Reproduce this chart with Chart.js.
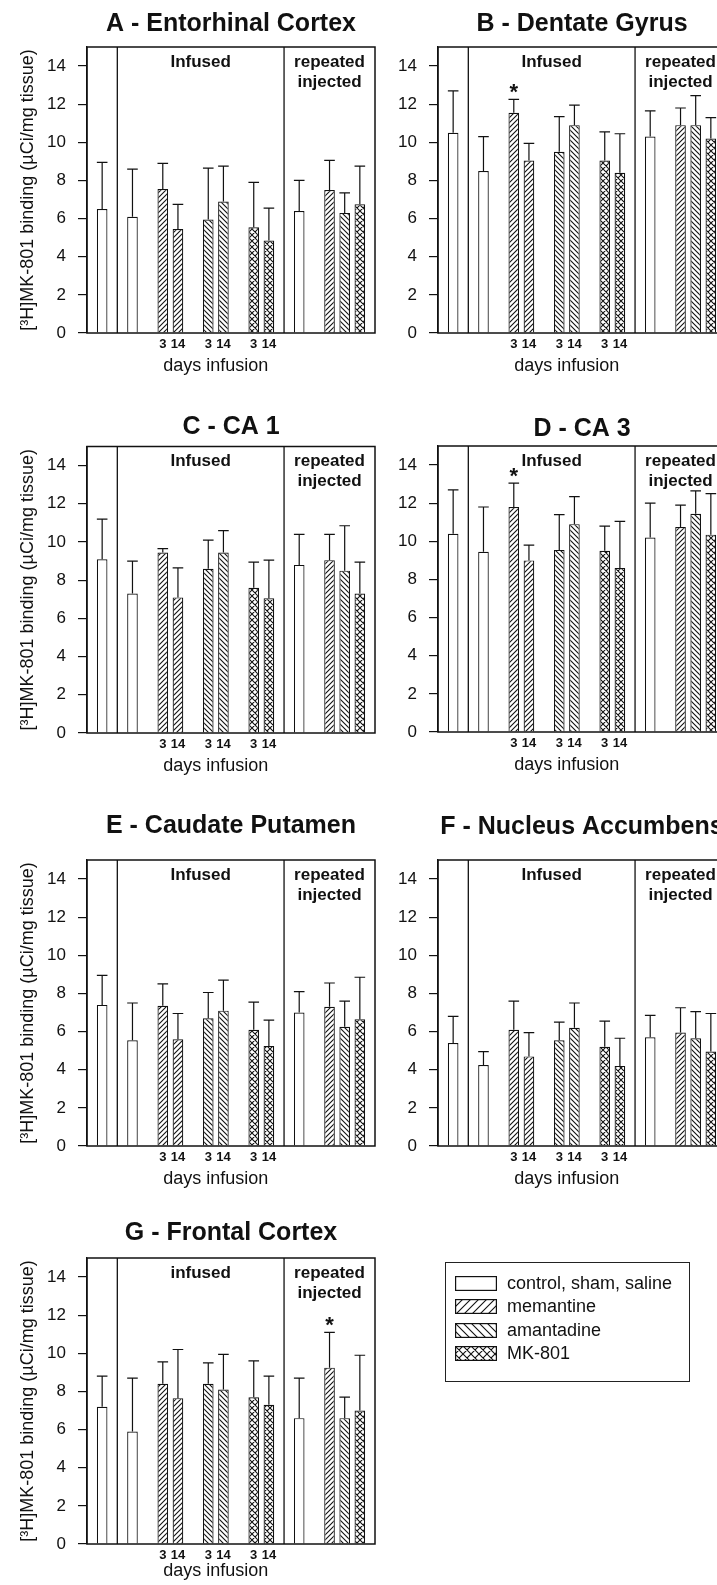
<!DOCTYPE html>
<html lang="en">
<head>
  <meta charset="UTF-8">
  <title>[3H]MK-801 binding</title>
  <script src="https://cdn.jsdelivr.net/npm/chart.js"></script>
  <style>
    body {
      margin: 0;
      width: 717px;
      height: 1585px;
      overflow: hidden;
      position: relative;
      background: #fff;
      font-family: 'Liberation Sans', Arial, Helvetica, sans-serif;
      color: #111;
    }
    canvas.panel { position: absolute; }
    #legend {
      position: absolute;
      left: 445px;
      top: 1262px;
      width: 243px;
      height: 109px;
      border: 1.3px solid #222;
      box-sizing: content-box;
      padding-top: 9px;
    }
    .row {
      display: flex;
      align-items: center;
      height: 23.3px;
      padding-left: 9px;
      font-size: 18px;
    }
    .row canvas { margin-right: 10px; }
  </style>
</head>
<body>
  <div id="legend"></div>
  <script>
    const INK = '#111';
    const FONT = "'Liberation Sans', Arial, Helvetica, sans-serif";

    // slot layout of every panel: empty strings are the gaps between groups
    const categories = ['', 'control', '', 'sham', '', 'memantine 3 d', 'memantine 14 d', '', 'amantadine 3 d', 'amantadine 14 d', '',
      'MK-801 3 d', 'MK-801 14 d', '', 'saline', '', 'memantine rep.', 'amantadine rep.', 'MK-801 rep.', ''];
    const dayTicks = ['', '', '', '', '', '3', '14', '', '3', '14', '', '3', '14', '', '', '', '', '', '', ''];
    const drugs = ['control', 'control', 'memantine', 'memantine', 'amantadine', 'amantadine', 'mk801', 'mk801',
      'control', 'memantine', 'amantadine', 'mk801'];
    const sectionBreaks = [2, 13];
    const yTicks = [0, 2, 4, 6, 8, 10, 12, 14];

    const legendLabels = ['control, sham, saline', 'memantine', 'amantadine', 'MK-801'];
    const legendKeys = ['control', 'memantine', 'amantadine', 'mk801'];

    // mean and SD, 12 bars per region
    const meanA = [6.5, 6.1, 7.55, 5.45, 5.95, 6.9, 5.55, 4.85, 6.4, 7.5, 6.3, 6.75];
    const sdA = [2.45, 2.5, 1.35, 1.3, 2.7, 1.85, 2.35, 1.7, 1.6, 1.55, 1.05, 2.0];
    const meanB = [10.5, 8.5, 11.55, 9.05, 9.5, 10.9, 9.05, 8.4, 10.3, 10.9, 10.9, 10.2];
    const sdB = [2.2, 1.8, 0.7, 0.9, 1.85, 1.05, 1.5, 2.05, 1.35, 0.9, 1.55, 1.1];
    const meanC = [9.1, 7.3, 9.45, 7.1, 8.6, 9.45, 7.6, 7.05, 8.8, 9.05, 8.5, 7.3];
    const sdC = [2.1, 1.7, 0.2, 1.55, 1.5, 1.15, 1.35, 2.0, 1.6, 1.35, 2.35, 1.65];
    const meanD = [10.4, 9.45, 11.8, 9.0, 9.55, 10.9, 9.5, 8.6, 10.2, 10.75, 11.45, 10.35];
    const sdD = [2.3, 2.35, 1.25, 0.8, 1.85, 1.45, 1.3, 2.45, 1.8, 1.15, 1.2, 2.15];
    const meanE = [7.4, 5.55, 7.35, 5.6, 6.7, 7.1, 6.1, 5.25, 7.0, 7.3, 6.25, 6.65];
    const sdE = [1.55, 1.95, 1.15, 1.35, 1.35, 1.6, 1.45, 1.35, 1.1, 1.25, 1.35, 2.2];
    const meanF = [5.4, 4.25, 6.1, 4.7, 5.55, 6.2, 5.2, 4.2, 5.7, 5.95, 5.65, 4.95];
    const sdF = [1.4, 0.7, 1.5, 1.25, 0.95, 1.3, 1.35, 1.45, 1.15, 1.3, 1.4, 2.0];
    const meanG = [7.2, 5.9, 8.4, 7.65, 8.4, 8.1, 7.7, 7.3, 6.6, 9.25, 6.6, 7.0];
    const sdG = [1.6, 2.8, 1.15, 2.55, 1.1, 1.85, 1.9, 1.5, 2.1, 1.85, 1.1, 2.9];

    // bars marked with *
    const starsB = [2];
    const starsD = [2];
    const starsG = [9];

    const panels = [
      { title: 'A - Entorhinal Cortex', mean: meanA, sd: sdA, stars: [], infused: 'Infused', left: 0, frameTop: 47, gap: 8, xGap: 33 },
      { title: 'B - Dentate Gyrus', mean: meanB, sd: sdB, stars: starsB, infused: 'Infused', left: 351, frameTop: 47, gap: 8, xGap: 33 },
      { title: 'C - CA 1', mean: meanC, sd: sdC, stars: [], infused: 'Infused', left: 0, frameTop: 446, gap: 4.5, xGap: 33 },
      { title: 'D - CA 3', mean: meanD, sd: sdD, stars: starsD, infused: 'Infused', left: 351, frameTop: 446, gap: 2, xGap: 33 },
      { title: 'E - Caudate Putamen', mean: meanE, sd: sdE, stars: [], infused: 'Infused', left: 0, frameTop: 859.5, gap: 19, xGap: 33 },
      { title: 'F - Nucleus Accumbens', mean: meanF, sd: sdF, stars: [], infused: 'Infused', left: 351, frameTop: 859.5, gap: 18, xGap: 33 },
      { title: 'G - Frontal Cortex', mean: meanG, sd: sdG, stars: starsG, infused: 'infused', left: 0, frameTop: 1258, gap: 10, xGap: 27 }
    ];

    const barSlots = categories.map((c, i) => c ? i : -1).filter(i => i >= 0);

    function toSlots(vals) {
      const out = categories.map(() => null);
      barSlots.forEach((s, k) => { out[s] = vals[k]; });
      return out;
    }

    function hatch(kind, s) {
      const c = document.createElement('canvas');
      c.width = c.height = s;
      const g = c.getContext('2d');
      g.fillStyle = '#fff';
      g.fillRect(0, 0, s, s);
      if (kind === 'control') return c;
      g.strokeStyle = INK;
      g.lineWidth = 1.1;
      g.beginPath();
      if (kind === 'memantine' || kind === 'mk801') {
        g.moveTo(-1, s + 1); g.lineTo(s + 1, -1);
        g.moveTo(-1, 1); g.lineTo(1, -1);
        g.moveTo(s - 1, s + 1); g.lineTo(s + 1, s - 1);
      }
      if (kind === 'amantadine' || kind === 'mk801') {
        g.moveTo(-1, -1); g.lineTo(s + 1, s + 1);
        g.moveTo(-1, s - 1); g.lineTo(1, s + 1);
        g.moveTo(s - 1, -1); g.lineTo(s + 1, 1);
      }
      g.stroke();
      return c;
    }

    function fillFor(ctx, kind, s) {
      if (kind === 'control') return '#fff';
      return ctx.createPattern(hatch(kind, s), 'repeat');
    }

    function decor(p) {
      return {
        id: 'decor',
        afterDatasetsDraw(chart) {
          const { ctx, scales: { x, y } } = chart;
          const meta = chart.getDatasetMeta(0);
          ctx.save();
          ctx.strokeStyle = INK;
          ctx.lineWidth = 1.2;
          barSlots.forEach((s, k) => {
            const bar = meta.data[s];
            const capY = y.getPixelForValue(p.mean[k] + p.sd[k]);
            const half = bar.width / 2;
            ctx.beginPath();
            ctx.moveTo(bar.x, bar.y);
            ctx.lineTo(bar.x, capY);
            ctx.moveTo(bar.x - half, capY);
            ctx.lineTo(bar.x + half, capY);
            ctx.stroke();
            if (p.stars.includes(k)) {
              ctx.fillStyle = INK;
              ctx.font = 'bold 22px ' + FONT;
              ctx.textAlign = 'center';
              ctx.textBaseline = 'alphabetic';
              ctx.fillText('*', bar.x, capY);
            }
          });
          ctx.restore();
        },
        afterDraw(chart) {
          const { ctx, chartArea: a, scales: { x } } = chart;
          ctx.save();
          ctx.strokeStyle = INK;
          ctx.lineWidth = 1.5;
          ctx.strokeRect(a.left, a.top, a.right - a.left, a.bottom - a.top);
          ctx.lineWidth = 1.3;
          const cuts = sectionBreaks.map(i => x.getPixelForValue(i));
          cuts.forEach(px => {
            ctx.beginPath();
            ctx.moveTo(px, a.top);
            ctx.lineTo(px, a.bottom);
            ctx.stroke();
          });
          ctx.fillStyle = INK;
          ctx.textAlign = 'center';
          ctx.textBaseline = 'middle';
          ctx.font = 'bold 17px ' + FONT;
          ctx.fillText(p.infused, (cuts[0] + cuts[1]) / 2, a.top + 15);
          const repX = (cuts[1] + a.right) / 2;
          ctx.fillText('repeated', repX, a.top + 15);
          ctx.fillText('injected', repX, a.top + 35);
          // axis title sits under the day labels
          const dayIdx = dayTicks.map((d, i) => d ? i : -1).filter(i => i >= 0);
          const midX = (x.getPixelForValue(dayIdx[0]) + x.getPixelForValue(dayIdx[dayIdx.length - 1])) / 2;
          ctx.font = '18px ' + FONT;
          ctx.fillText('days infusion', midX, a.bottom + p.xGap);
          ctx.restore();
        }
      };
    }

    panels.forEach(p => {
      const cv = document.createElement('canvas');
      cv.className = 'panel';
      cv.width = 379;
      cv.height = Math.round(38 + p.gap + 286 + 46);
      cv.style.left = p.left + 'px';
      cv.style.top = Math.round(p.frameTop - 38 - p.gap) + 'px';
      document.body.appendChild(cv);
      const ctx = cv.getContext('2d');
      const fills = toSlots(drugs.map(d => fillFor(ctx, d, d === 'mk801' ? 6 : 5)));

      new Chart(ctx, {
        type: 'bar',
        data: {
          labels: categories,
          datasets: [{
            data: toSlots(p.mean),
            backgroundColor: fills.map(f => f || '#fff'),
            borderColor: INK,
            borderWidth: 1.2,
            categoryPercentage: 1,
            barPercentage: 0.7
          }]
        },
        options: {
          responsive: false,
          animation: false,
          events: [],
          layout: { padding: { right: 4 } },
          plugins: {
            legend: { display: false },
            tooltip: { enabled: false },
            title: {
              display: true,
              text: p.title,
              fullSize: false,
              color: INK,
              font: { family: FONT, size: 25, weight: 'bold' },
              padding: { top: 8, bottom: p.gap }
            }
          },
          scales: {
            x: {
              type: 'category',
              offset: false,
              grid: { display: false, drawTicks: false },
              border: { display: false },
              ticks: {
                autoSkip: false,
                maxRotation: 0,
                padding: 4,
                color: INK,
                font: { family: FONT, size: 13, weight: 'bold' },
                callback: (v, i) => dayTicks[i]
              },
              afterFit: s => { s.height = 46; }
            },
            y: {
              min: 0,
              max: 15,
              afterBuildTicks: s => { s.ticks = yTicks.map(v => ({ value: v })); },
              afterFit: s => { s.width = 87; },
              grid: { drawOnChartArea: false, drawTicks: true, tickLength: 9, color: INK, lineWidth: 1.2 },
              border: { display: true, color: INK, width: 1.3 },
              ticks: { padding: 12, color: INK, font: { family: FONT, size: 17 } },
              title: {
                display: p.left === 0,
                text: '[³H]MK-801 binding (µCi/mg tissue)',
                color: INK,
                font: { family: FONT, size: 18 },
                padding: { top: 17, bottom: 0 }
              }
            }
          }
        },
        plugins: [decor(p)]
      });
    });

    // legend box
    const legend = document.getElementById('legend');
    legendLabels.forEach((label, i) => {
      const row = document.createElement('div');
      row.className = 'row';
      const sw = document.createElement('canvas');
      sw.width = 42;
      sw.height = 15;
      const g = sw.getContext('2d');
      g.fillStyle = fillFor(g, legendKeys[i], 8);
      g.fillRect(0, 0, 42, 15);
      g.strokeStyle = INK;
      g.lineWidth = 1.2;
      g.strokeRect(0.6, 0.6, 40.8, 13.8);
      const span = document.createElement('span');
      span.textContent = label;
      row.appendChild(sw);
      row.appendChild(span);
      legend.appendChild(row);
    });
  </script>
</body>
</html>
